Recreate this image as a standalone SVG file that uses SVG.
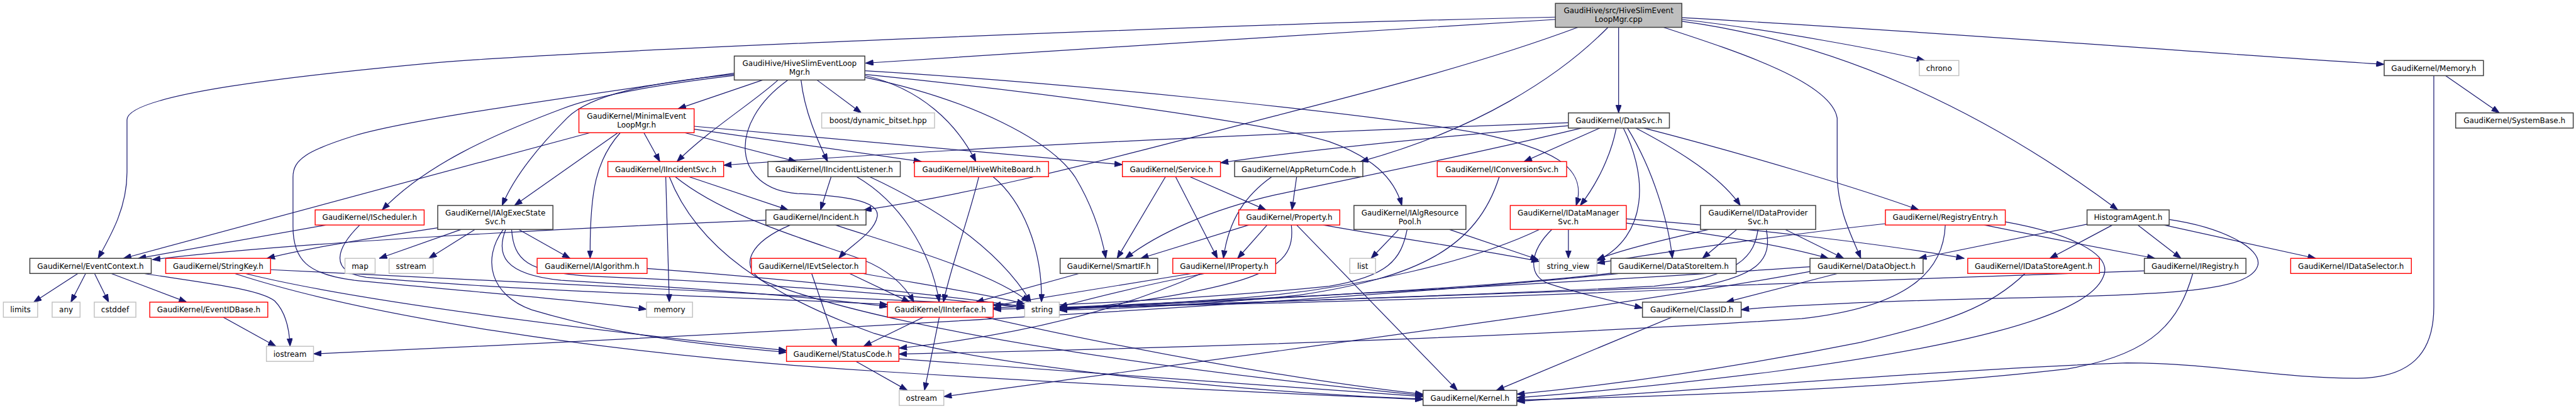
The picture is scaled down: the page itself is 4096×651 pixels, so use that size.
<svg xmlns="http://www.w3.org/2000/svg" width="4096" height="651" viewBox="0 0 4096 651">
<style>
.b{fill:#fff;stroke:#404040;stroke-width:1.6}
.r{fill:#fff;stroke:#ff0000;stroke-width:1.5}
.g{fill:#fff;stroke:#bfbfbf;stroke-width:1.5}
.t{fill:#bfbfbf;stroke:#404040;stroke-width:1.6}
text{font-family:"DejaVu Sans","Liberation Sans",sans-serif;font-size:12.75px;text-anchor:middle;fill:#000}
#edges path{fill:none;stroke:#191970;stroke-width:1.3;marker-end:url(#a)}
</style>
<defs>
<marker id="a" markerUnits="userSpaceOnUse" markerWidth="14" markerHeight="10" refX="13" refY="5" orient="auto" viewBox="0 0 13 10">
<path d="M0,0.3 L13,5 L0,9.7 z" fill="#191970" stroke="#191970" stroke-width="1"/>
</marker>
</defs>
<rect width="4096" height="651" fill="#fff"/>
<g transform="scale(0.9393)">
<g id="edges">
<path d="M2633,33 C2300,52 1800,86 1465,107"/>
<path d="M2633,29 C2100,40 1000,85 740,106 C500,128 215,160 215,203 L215,292 C215,350 190,395 166,437.8"/>
<path d="M2740,46.3 L2740,191.3"/>
<path d="M2722,46.3 C2640,130 2500,220 2303,273.8"/>
<path d="M2671,46.3 C2500,110 2300,160 2160,196 C1950,250 1700,320 1462,356"/>
<path d="M2816,46.3 C2950,90 3100,140 3110,200 L3110,300 C3112,360 3135,400 3150,437.8"/>
<path d="M2847,36 C3100,70 3350,180 3585,355.7"/>
<path d="M2847,33 C3000,50 3200,88 3258,102.5"/>
<path d="M2847,30 C3300,55 3700,88 4036,109"/>
<path d="M1291,135.6 L1148,184.3"/>
<path d="M1317,135.6 C1280,170 1200,220 1146,273.8"/>
<path d="M1334,135.6 C1230,210 1240,320 1350,328 C1430,332 1490,340 1485,367 C1480,395 1440,415 1420,437.8"/>
<path d="M1356,135.6 C1362,190 1385,240 1401,273.8"/>
<path d="M1383,135.6 L1458,191.3"/>
<path d="M1464,120 C1800,140 2300,190 2500,225 C2620,250 2690,280 2668,348.2"/>
<path d="M1464,126 C1800,160 2150,210 2250,240 C2320,265 2360,300 2373,348.2"/>
<path d="M1464,128 C1560,150 1620,210 1652,273.8"/>
<path d="M1464,131 C1650,170 1780,240 1820,300 C1850,350 1865,400 1872,437.8"/>
<path d="M1243,128 C1100,145 1000,165 950,185 C830,230 720,280 647,355.7"/>
<path d="M1243,126 C1100,140 1000,160 960,200 C910,250 870,300 850,348.2"/>
<path d="M1243,124 C1000,160 700,200 600,230 C520,255 496,270 496,300 L496,384 C496,440 520,465 600,475 C800,495 1000,510 1094.4,524"/>
<path d="M999,224.9 L209,437.8"/>
<path d="M1046,224.9 L871,348.2"/>
<path d="M1050,224.9 C1010,270 998,320 999,437.8"/>
<path d="M1090,224.9 L1117,273.8"/>
<path d="M1159,224.9 L1348,273.8"/>
<path d="M1175,214 L1900,279"/>
<path d="M1175,219 L1560,273.8"/>
<path d="M1127,299.4 L1133,512"/>
<path d="M1166,299.4 L1334,355.7"/>
<path d="M1143,299.4 C1230,370 1380,410 1460,440 C1510,460 1535,490 1547,512"/>
<path d="M1133,299.4 C1180,420 1300,500 1480,565 C1700,630 2200,670 2409,676"/>
<path d="M1407,299.4 L1389,355.7"/>
<path d="M1450,299.4 C1520,340 1575,420 1590,512"/>
<path d="M1472,299.4 C1580,350 1690,420 1745,512"/>
<path d="M1657,299.4 C1640,370 1610,450 1597,512"/>
<path d="M1681,299.4 C1730,340 1765,420 1763,512"/>
<path d="M1973,299.4 L1891,437.8"/>
<path d="M1990,299.4 L2061,437.8"/>
<path d="M2014,299.4 L2143,355.7"/>
<path d="M2195,299.4 L2187,355.7"/>
<path d="M2153,299.4 C2110,330 2080,370 2071,437.8"/>
<path d="M2538,299.4 C2500,420 2400,470 2200,500 C2000,520 1850,525 1793.2,525"/>
<path d="M2655,213 C2400,235 2200,255 2066,276"/>
<path d="M2655,208 C2300,220 1700,245 1225,280"/>
<path d="M2677,217 C2500,260 2300,300 2160,330 C2050,355 1960,395 1905,437.8"/>
<path d="M2708,217 L2580,273.8"/>
<path d="M2736,217 C2728,260 2705,310 2675,348.2"/>
<path d="M2748,217 C2790,300 2790,400 2703.4,442"/>
<path d="M2755,217 C2800,290 2825,380 2831,437.8"/>
<path d="M2769,217 C2870,270 2920,310 2946,348.2"/>
<path d="M2783,217 C2950,260 3150,320 3248,355.7"/>
<path d="M1296.5,373 C1000,385 500,410 258,440"/>
<path d="M1338,381.3 C1270,410 1250,450 1290,475 C1500,560 2000,630 2409,670"/>
<path d="M1414,381.3 C1500,410 1680,460 1742,512"/>
<path d="M741,386 C650,400 520,420 452,437.8"/>
<path d="M781,388.8 L642,437.8"/>
<path d="M804,388.8 L726,437.8"/>
<path d="M852,388.8 C815,440 830,500 900,525 C1050,570 1200,585 1331.4,597"/>
<path d="M856,388.8 C840,430 850,465 950,475 C1200,490 1400,505 1502.3,520"/>
<path d="M866,388.8 C870,440 890,462 1000,468 C1300,480 1600,505 1734.6,522"/>
<path d="M878,388.8 L965,437.8"/>
<path d="M552,381.3 L234,437.8"/>
<path d="M609,381.3 C570,420 555,460 620,470 C900,495 1300,505 1502.3,516"/>
<path d="M458,457 C800,475 1300,500 1734.6,518"/>
<path d="M415,463.4 C600,510 1000,560 1331.4,594"/>
<path d="M397,463.4 C600,530 1000,600 1500,630 C1900,655 2200,668 2409,677"/>
<path d="M132,463.4 L57,512"/>
<path d="M145,463.4 L120,512"/>
<path d="M160,463.4 L184,512"/>
<path d="M188,463.4 L316,512"/>
<path d="M243,463.4 C350,480 440,490 465,510 C485,530 490,560 491,586.8"/>
<path d="M378,537.6 L467,586.8"/>
<path d="M1095.4,455 C1300,470 1600,500 1734.6,520"/>
<path d="M1374,463.4 L1416,586.8"/>
<path d="M1438,463.4 L1540,512"/>
<path d="M1460,463.4 C1550,480 1680,500 1734.6,515"/>
<path d="M1827,463.4 L1652,512"/>
<path d="M2018,463.4 L1681.3,518"/>
<path d="M2040,463.4 C1950,480 1850,505 1793.2,520"/>
<path d="M2034,463.4 C1950,500 1800,560 1522,590"/>
<path d="M2114,381.3 L1931,437.8"/>
<path d="M2145,381.3 L2095,437.8"/>
<path d="M2186,381.3 C2190,420 2180,450 2100,475 C2000,505 1850,520 1793.2,526"/>
<path d="M2195,381.3 L2467,661.5"/>
<path d="M2240,381.3 C2400,410 2520,425 2605.7,443"/>
<path d="M2368,388.8 L2321,437.8"/>
<path d="M2453,388.8 L2604,440"/>
<path d="M2382,388.8 C2372,440 2350,468 2250,485 C2000,510 1800,515 1681.3,522"/>
<path d="M2655,388.8 L2655,437.8"/>
<path d="M2627,388.8 C2590,425 2585,465 2620,480 C2680,500 2740,512 2780.4,522"/>
<path d="M2606,388.8 C2500,440 2300,490 2100,505 C1950,515 1850,522 1793.2,523"/>
<path d="M2753,378 C2850,390 3000,410 3095,437.8"/>
<path d="M2753,371 C2950,385 3200,415 3325,437.8"/>
<path d="M3022,388.8 L3121,437.8"/>
<path d="M2940,388.8 L2882,437.8"/>
<path d="M2893,388.8 C2800,410 2740,425 2703.4,440"/>
<path d="M2976,388.8 C2970,430 2950,470 2800,485 C2400,505 2000,515 1793.2,524"/>
<path d="M2990,388.8 C3000,440 2980,470 2850,490 C2400,510 1900,520 1681.3,524"/>
<path d="M2727,463 C2500,490 2000,515 1793.2,522"/>
<path d="M2740,463.4 C2300,510 1200,570 530.7,599.6"/>
<path d="M3111,463.4 L2922,512"/>
<path d="M3064,460 C2800,510 2200,590 1597.7,672"/>
<path d="M3064,452 C2800,470 2200,505 1793.2,521"/>
<path d="M3293,381.3 C3290,460 3230,520 3050,540 C2600,570 2000,590 1521.7,600"/>
<path d="M3192,379 C3000,400 2800,430 2703.4,446"/>
<path d="M3359,381.3 C3450,400 3580,425 3648,437.8"/>
<path d="M3394.6,376 C3500,395 3580,430 3560,470 C3530,540 3300,590 3000,630 C2800,655 2650,668 2567.7,674"/>
<path d="M3533,380 L3248,437.8"/>
<path d="M3576,381.3 L3470,437.8"/>
<path d="M3619,381.3 L3692,437.8"/>
<path d="M3663,381.3 L3920,437.8"/>
<path d="M3672,372 C3760,385 3830,420 3822,450 C3810,490 3700,500 3400,505 C3200,510 3000,518 2947.5,525"/>
<path d="M3712,463.4 C3690,540 3650,600 3500,625 C3200,660 2800,672 2567.7,678"/>
<path d="M3630,459 C3300,475 2500,500 1793.2,523"/>
<path d="M3428,463.4 C3370,520 3300,545 3150,580 C2900,630 2700,655 2567.7,668"/>
<path d="M4140,128.2 L4231,191.3"/>
<path d="M4120,128.2 L4120,520 C4120,600 4080,640 3990,641 C3850,641 3750,615 3600,615 C3300,625 2800,668 2567.7,680"/>
<path d="M1563,537.6 L1462,586.8"/>
<path d="M1590,537.6 L1565,661.5"/>
<path d="M1668,537.6 C1900,590 2200,645 2409,668"/>
<path d="M1449,612.4 L1536,661.5"/>
<path d="M1521.7,608 C1800,630 2200,655 2409,672"/>
<path d="M2830,537.6 L2533,661.5"/>
</g>
<g id="n_top"><rect class="t" x="2633" y="5.7" width="214" height="40.6"/><text x="2740" y="22.7">GaudiHive/src/HiveSlimEvent</text><text x="2740" y="37.2">LoopMgr.cpp</text></g>
<g id="n_hive"><rect class="b" x="1243" y="95" width="221" height="40.6"/><text x="1353.5" y="112">GaudiHive/HiveSlimEventLoop</text><text x="1353.5" y="126.5">Mgr.h</text></g>
<g id="n_chrono"><rect class="g" x="3249" y="102.5" width="67" height="25.7"/><text x="3282.5" y="119.9">chrono</text></g>
<g id="n_memh"><rect class="b" x="4036" y="102.5" width="168" height="25.7"/><text x="4120" y="119.9">GaudiKernel/Memory.h</text></g>
<g id="n_boost"><rect class="g" x="1391" y="191.3" width="191" height="25.7"/><text x="1486.5" y="208.7">boost/dynamic_bitset.hpp</text></g>
<g id="n_datasvc"><rect class="b" x="2655" y="191.3" width="171" height="25.7"/><text x="2740.5" y="208.7">GaudiKernel/DataSvc.h</text></g>
<g id="n_sysbase"><rect class="b" x="4157" y="191.3" width="199" height="25.7"/><text x="4256.5" y="208.7">GaudiKernel/SystemBase.h</text></g>
<g id="n_minimal"><rect class="r" x="980" y="184.3" width="195" height="40.6"/><text x="1077.5" y="201.3">GaudiKernel/MinimalEvent</text><text x="1077.5" y="215.8">LoopMgr.h</text></g>
<g id="n_iincsvc"><rect class="r" x="1029" y="273.8" width="196" height="25.6"/><text x="1127" y="291.2">GaudiKernel/IIncidentSvc.h</text></g>
<g id="n_iinclis"><rect class="b" x="1300" y="273.8" width="224" height="25.6"/><text x="1412" y="291.2">GaudiKernel/IIncidentListener.h</text></g>
<g id="n_hivewb"><rect class="r" x="1548" y="273.8" width="227" height="25.6"/><text x="1661.5" y="291.2">GaudiKernel/IHiveWhiteBoard.h</text></g>
<g id="n_service"><rect class="r" x="1900" y="273.8" width="166" height="25.6"/><text x="1983" y="291.2">GaudiKernel/Service.h</text></g>
<g id="n_appret"><rect class="b" x="2090" y="273.8" width="217" height="25.6"/><text x="2198.5" y="291.2">GaudiKernel/AppReturnCode.h</text></g>
<g id="n_iconv"><rect class="r" x="2433" y="273.8" width="219" height="25.6"/><text x="2542.5" y="291.2">GaudiKernel/IConversionSvc.h</text></g>
<g id="n_isched"><rect class="r" x="533.5" y="355.7" width="184.5" height="25.6"/><text x="625.75" y="373.1">GaudiKernel/IScheduler.h</text></g>
<g id="n_ialgexec"><rect class="b" x="741" y="348.2" width="195" height="40.6"/><text x="838.5" y="365.2">GaudiKernel/IAlgExecState</text><text x="838.5" y="379.7">Svc.h</text></g>
<g id="n_incident"><rect class="b" x="1296.5" y="355.7" width="169.5" height="25.6"/><text x="1381.25" y="373.1">GaudiKernel/Incident.h</text></g>
<g id="n_property"><rect class="r" x="2097" y="355.7" width="171" height="25.6"/><text x="2182.5" y="373.1">GaudiKernel/Property.h</text></g>
<g id="n_ialgres"><rect class="b" x="2292" y="348.2" width="189.5" height="40.6"/><text x="2386.75" y="365.2">GaudiKernel/IAlgResource</text><text x="2386.75" y="379.7">Pool.h</text></g>
<g id="n_idataman"><rect class="r" x="2556.6" y="348.2" width="196.4" height="40.6"/><text x="2654.8" y="365.2">GaudiKernel/IDataManager</text><text x="2654.8" y="379.7">Svc.h</text></g>
<g id="n_idataprov"><rect class="b" x="2878.6" y="348.2" width="195" height="40.6"/><text x="2976.1" y="365.2">GaudiKernel/IDataProvider</text><text x="2976.1" y="379.7">Svc.h</text></g>
<g id="n_regentry"><rect class="r" x="3191.6" y="355.7" width="203" height="25.6"/><text x="3293.1" y="373.1">GaudiKernel/RegistryEntry.h</text></g>
<g id="n_histagent"><rect class="b" x="3533" y="355.7" width="139" height="25.6"/><text x="3602.5" y="373.1">HistogramAgent.h</text></g>
<g id="n_evctx"><rect class="b" x="50.5" y="437.8" width="205.5" height="25.6"/><text x="153.25" y="455.2">GaudiKernel/EventContext.h</text></g>
<g id="n_strkey"><rect class="r" x="280.5" y="437.8" width="177.5" height="25.6"/><text x="369.25" y="455.2">GaudiKernel/StringKey.h</text></g>
<g id="n_map"><rect class="g" x="584" y="437.8" width="51" height="25.6"/><text x="609.5" y="455.2">map</text></g>
<g id="n_sstream"><rect class="g" x="658.6" y="437.8" width="74.6" height="25.6"/><text x="695.9" y="455.2">sstream</text></g>
<g id="n_ialgo"><rect class="r" x="909.3" y="437.8" width="186.1" height="25.6"/><text x="1002.35" y="455.2">GaudiKernel/IAlgorithm.h</text></g>
<g id="n_ievtsel"><rect class="r" x="1272" y="437.8" width="194" height="25.6"/><text x="1369" y="455.2">GaudiKernel/IEvtSelector.h</text></g>
<g id="n_smartif"><rect class="b" x="1794.6" y="437.8" width="165.2" height="25.6"/><text x="1877.2" y="455.2">GaudiKernel/SmartIF.h</text></g>
<g id="n_iprop"><rect class="r" x="1985.3" y="437.8" width="174.2" height="25.6"/><text x="2072.4" y="455.2">GaudiKernel/IProperty.h</text></g>
<g id="n_list"><rect class="g" x="2285" y="437.8" width="43.6" height="25.6"/><text x="2306.8" y="455.2">list</text></g>
<g id="n_strview"><rect class="g" x="2605.7" y="437.8" width="97.7" height="25.6"/><text x="2654.55" y="455.2">string_view</text></g>
<g id="n_dsitem"><rect class="b" x="2727" y="437.8" width="212" height="25.6"/><text x="2833" y="455.2">GaudiKernel/DataStoreItem.h</text></g>
<g id="n_dataobj"><rect class="b" x="3064" y="437.8" width="191.4" height="25.6"/><text x="3159.7" y="455.2">GaudiKernel/DataObject.h</text></g>
<g id="n_idsagent"><rect class="r" x="3331" y="437.8" width="223" height="25.6"/><text x="3442.5" y="455.2">GaudiKernel/IDataStoreAgent.h</text></g>
<g id="n_iregistry"><rect class="b" x="3630" y="437.8" width="172" height="25.6"/><text x="3716" y="455.2">GaudiKernel/IRegistry.h</text></g>
<g id="n_idatasel"><rect class="r" x="3877.7" y="437.8" width="204.3" height="25.6"/><text x="3979.85" y="455.2">GaudiKernel/IDataSelector.h</text></g>
<g id="n_limits"><rect class="g" x="5.7" y="512" width="58" height="25.6"/><text x="34.7" y="529.4">limits</text></g>
<g id="n_any"><rect class="g" x="88.3" y="512" width="47.2" height="25.6"/><text x="111.9" y="529.4">any</text></g>
<g id="n_cstddef"><rect class="g" x="159.6" y="512" width="70.4" height="25.6"/><text x="194.8" y="529.4">cstddef</text></g>
<g id="n_evidbase"><rect class="r" x="253.5" y="512" width="199.8" height="25.6"/><text x="353.4" y="529.4">GaudiKernel/EventIDBase.h</text></g>
<g id="n_memory"><rect class="g" x="1094.4" y="512" width="77.9" height="25.6"/><text x="1133.35" y="529.4">memory</text></g>
<g id="n_iinterface"><rect class="r" x="1502.3" y="512" width="179" height="25.6"/><text x="1591.8" y="529.4">GaudiKernel/IInterface.h</text></g>
<g id="n_string"><rect class="g" x="1734.6" y="512" width="58.6" height="25.6"/><text x="1763.9" y="529.4">string</text></g>
<g id="n_classid"><rect class="b" x="2780.4" y="512" width="167.1" height="25.6"/><text x="2863.95" y="529.4">GaudiKernel/ClassID.h</text></g>
<g id="n_iostream"><rect class="g" x="451" y="586.8" width="79.7" height="25.6"/><text x="490.85" y="604.2">iostream</text></g>
<g id="n_statuscode"><rect class="r" x="1331.4" y="586.8" width="190.3" height="25.6"/><text x="1426.55" y="604.2">GaudiKernel/StatusCode.h</text></g>
<g id="n_ostream"><rect class="g" x="1522.2" y="661.5" width="75.5" height="25.6"/><text x="1559.95" y="678.9">ostream</text></g>
<g id="n_kernel"><rect class="b" x="2409" y="661.5" width="158.7" height="25.6"/><text x="2488.35" y="678.9">GaudiKernel/Kernel.h</text></g>
</g>
</svg>
